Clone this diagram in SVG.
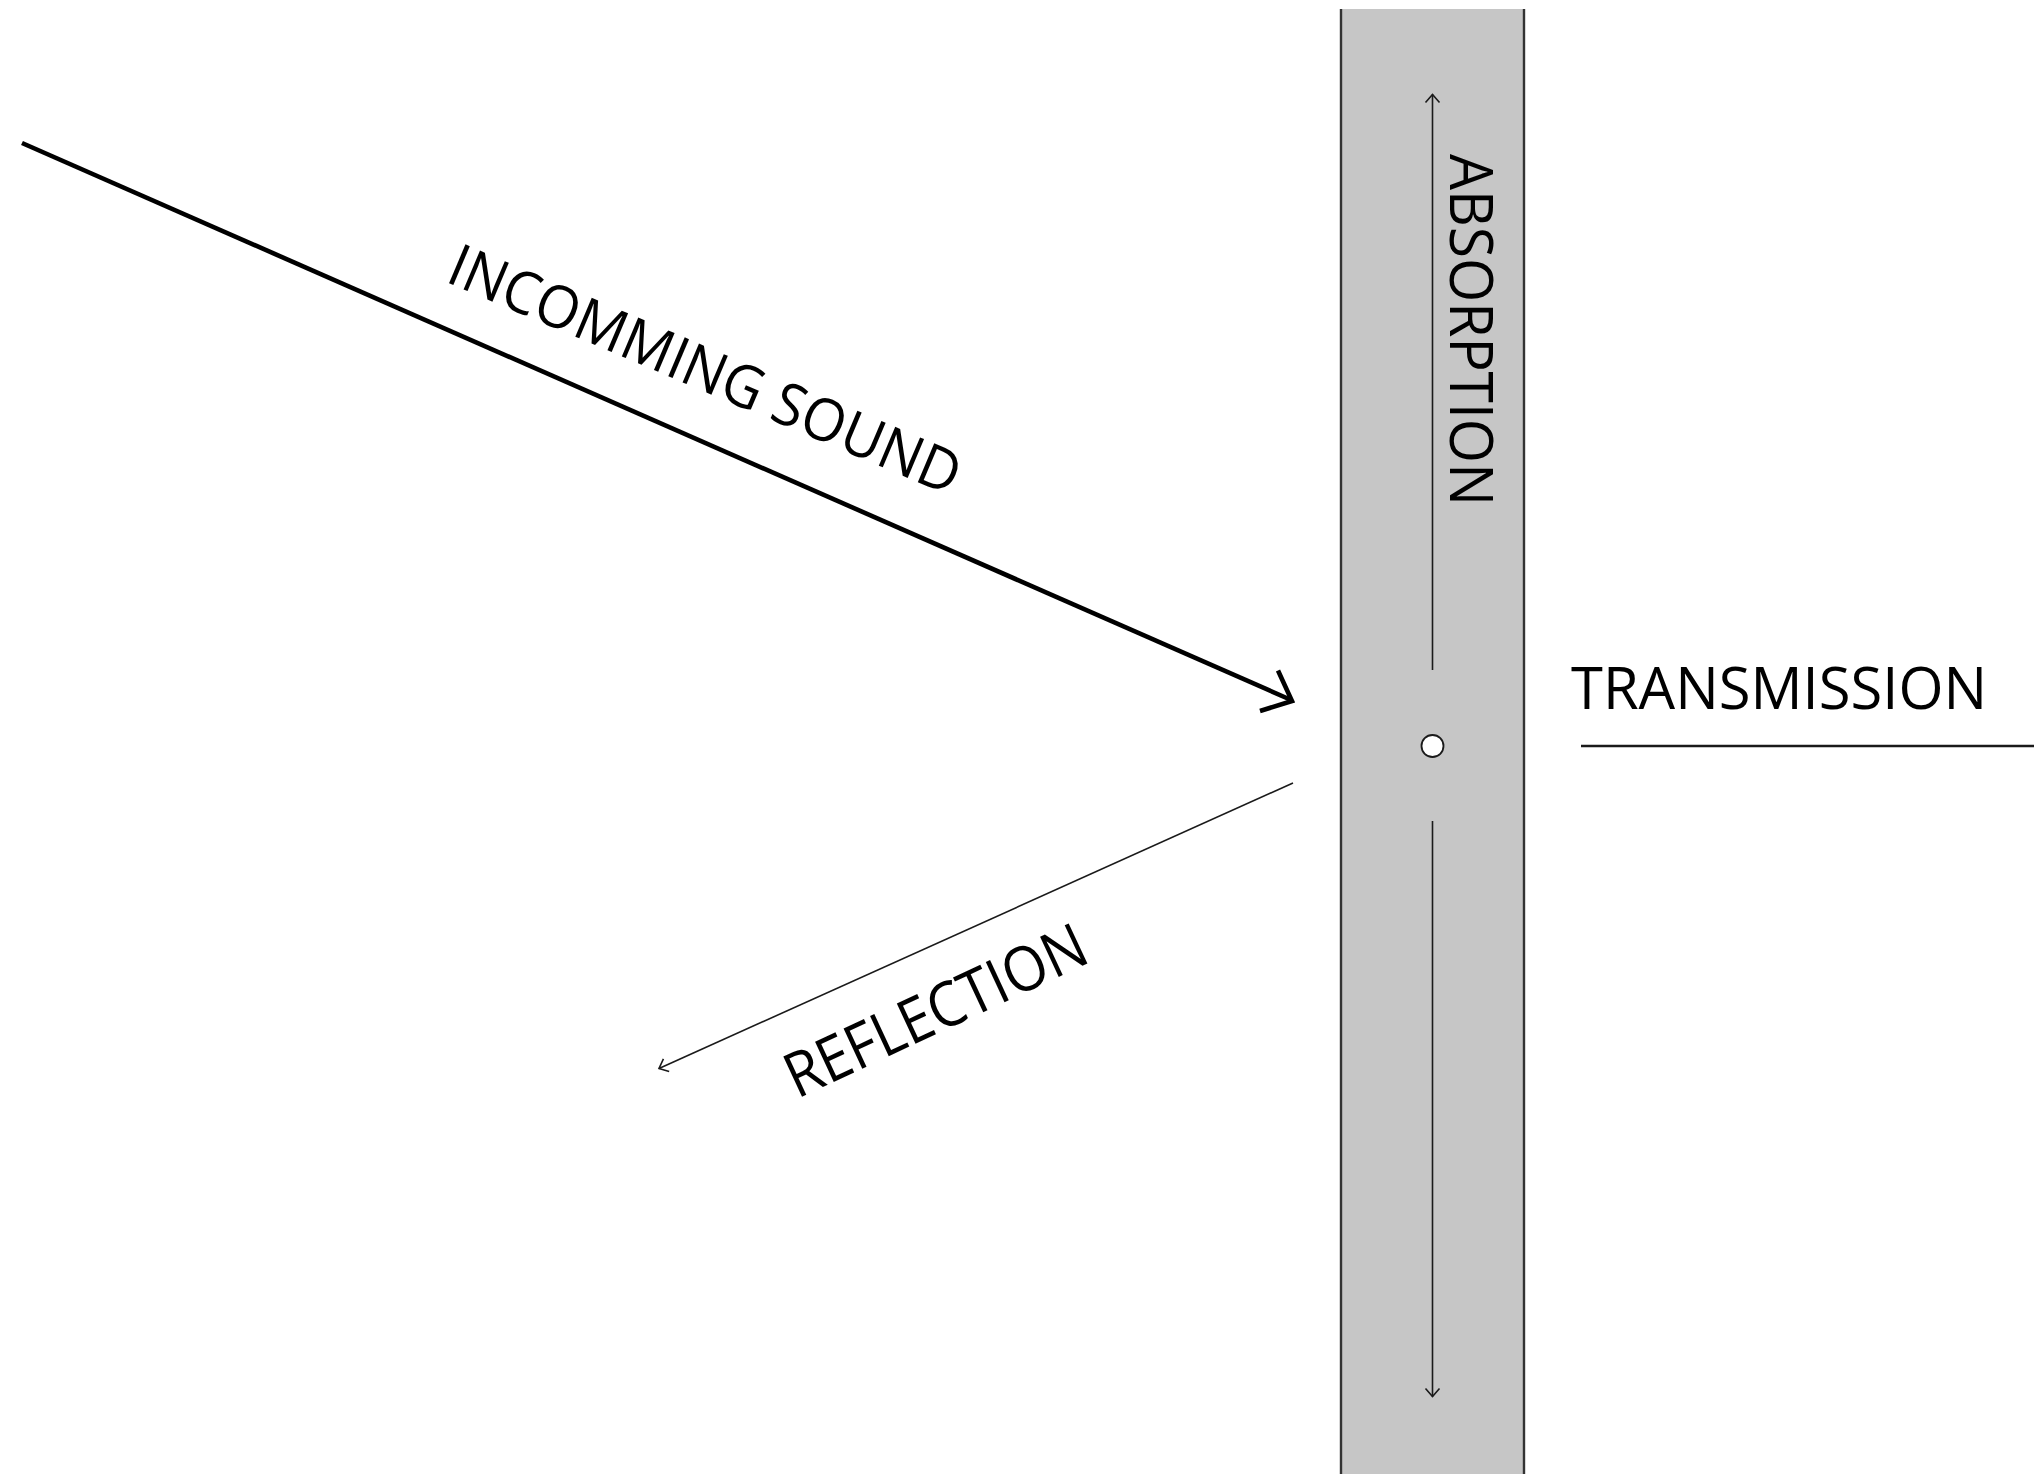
<svg xmlns="http://www.w3.org/2000/svg" width="2034" height="1474" viewBox="0 0 2034 1474">
  <style>
    .lbl { font-family: "Open Sans", "Liberation Sans", sans-serif; font-size: 59px; fill: #000; }
    .thin { stroke: #1a1a1a; stroke-width: 1.6; fill: none; }
    .thick { stroke: #000; stroke-width: 4.6; fill: none; }
    .wallEdge { stroke: #333; stroke-width: 2.4; }
  </style>
  <defs>
    <marker id="openArrow" markerUnits="userSpaceOnUse" markerWidth="24" markerHeight="24" viewBox="-12 -12 24 24" refX="0" refY="0" orient="auto">
      <path d="M-8,-7 L0,0 L-8,7" fill="none" stroke="#1a1a1a" stroke-width="1.6"/>
    </marker>
  </defs>
  <rect width="2034" height="1474" fill="#fff"/>

  <g id="wall">
    <rect x="1341" y="9" width="183" height="1465" fill="#c6c6c6"/>
    <line class="wallEdge" x1="1341" y1="9" x2="1341" y2="1474"/>
    <line class="wallEdge" x1="1524" y1="9" x2="1524" y2="1474"/>
  </g>

  <g id="center-point">
    <circle cx="1432.5" cy="746" r="11" fill="#fff" stroke="#1a1a1a" stroke-width="1.8"/>
  </g>

  <g id="connectors">
    <line id="incoming" class="thick" x1="22" y1="143" x2="1290" y2="699.5"/>
    <polyline class="thick" points="1278,670.5 1292,701 1260,711" stroke-linejoin="miter"/>
    <line id="reflection" class="thin" x1="1293" y1="783" x2="659" y2="1068.5" marker-end="url(#openArrow)"/>
    <line id="absorption-up" class="thin" x1="1432.5" y1="670" x2="1432.5" y2="94.5" marker-end="url(#openArrow)"/>
    <line id="absorption-down" class="thin" x1="1432.5" y1="821" x2="1432.5" y2="1396.5" marker-end="url(#openArrow)"/>
    <line id="transmission" x1="1581" y1="746" x2="2034" y2="746" stroke="#1a1a1a" stroke-width="2.6"/>
  </g>

  <g id="label-incoming">
    <text class="lbl" transform="translate(444,281) rotate(23)" x="0" y="0" textLength="550" lengthAdjust="spacingAndGlyphs">INCOMMING SOUND</text>
  </g>
  <g id="label-reflection">
    <text class="lbl" style="font-size:62px" transform="translate(797,1099) rotate(-25)" x="0" y="0" textLength="326" lengthAdjust="spacingAndGlyphs">REFLECTION</text>
  </g>
  <g id="label-absorption">
    <text class="lbl" style="font-size:61px" transform="translate(1450,154) rotate(90)" x="0" y="0" textLength="352" lengthAdjust="spacingAndGlyphs">ABSORPTION</text>
  </g>
  <g id="label-transmission">
    <text class="lbl" x="1571" y="709" textLength="416" lengthAdjust="spacingAndGlyphs">TRANSMISSION</text>
  </g>
</svg>
